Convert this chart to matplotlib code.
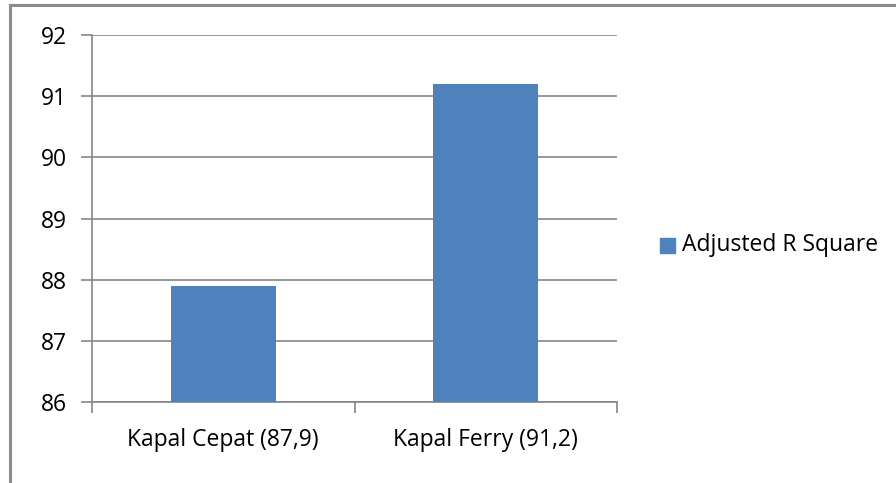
import matplotlib.pyplot as plt
from matplotlib.lines import Line2D
from matplotlib.patches import Rectangle

categories = ['Kapal Cepat (87,9)', 'Kapal Ferry (91,2)']
values = [87.9, 91.2]
series_name = 'Adjusted R Square'
yticks = [86, 87, 88, 89, 90, 91, 92]

bar_color = '#4F81BD'
grid_color = '#868686'

plt.rcParams['font.family'] = ['Open Sans', 'DejaVu Sans']

fig = plt.figure(figsize=(8.96, 4.83), dpi=100)
ax = fig.add_axes([92/896, 1-402/483, (617-92)/896, (402-35)/483])

x = range(len(categories))
ax.bar(x, values, width=0.4, color=bar_color, zorder=3)
ax.set_xlim(-0.5, len(categories) - 0.5)
ax.set_ylim(86, 92)
ax.set_yticks(yticks)
ax.set_yticklabels([str(t) for t in yticks])
ax.yaxis.grid(True, color=grid_color, linewidth=1.2, zorder=0)

# category labels centred, ticks on category boundaries
ax.set_xticks([-0.5, 0.5, 1.5])
ax.set_xticklabels([])
ax.set_xticks(list(x), minor=True)
ax.set_xticklabels(categories, minor=True)
ax.tick_params(axis='x', which='minor', length=0, pad=19, labelsize=16.5)
ax.tick_params(axis='x', which='major', length=8, color=grid_color, width=1.2)
ax.tick_params(axis='y', length=8, color=grid_color, width=1.2, pad=10, labelsize=16.5)

for s in ['top', 'right']:
    ax.spines[s].set_visible(False)
for s in ['left', 'bottom']:
    ax.spines[s].set_color(grid_color)
    ax.spines[s].set_linewidth(1.2)

# legend drawn by hand
fig.add_artist(Rectangle((660/896, 1-253/483), 15/896, 15/483, color=bar_color,
                         transform=fig.transFigure))
fig.text(682/896, 1-245/483, series_name, fontsize=16.5, va='center', ha='left')

# outer chart border (left and top visible)
fig.add_artist(Line2D([10/896, 10/896], [0, 1-5/483], color='#8c8c8c', linewidth=2.2,
                      transform=fig.transFigure))
fig.add_artist(Line2D([10/896, 1], [1-5/483, 1-5/483], color='#8c8c8c', linewidth=2.2,
                      transform=fig.transFigure))

fig.savefig('out.png', dpi=100)
